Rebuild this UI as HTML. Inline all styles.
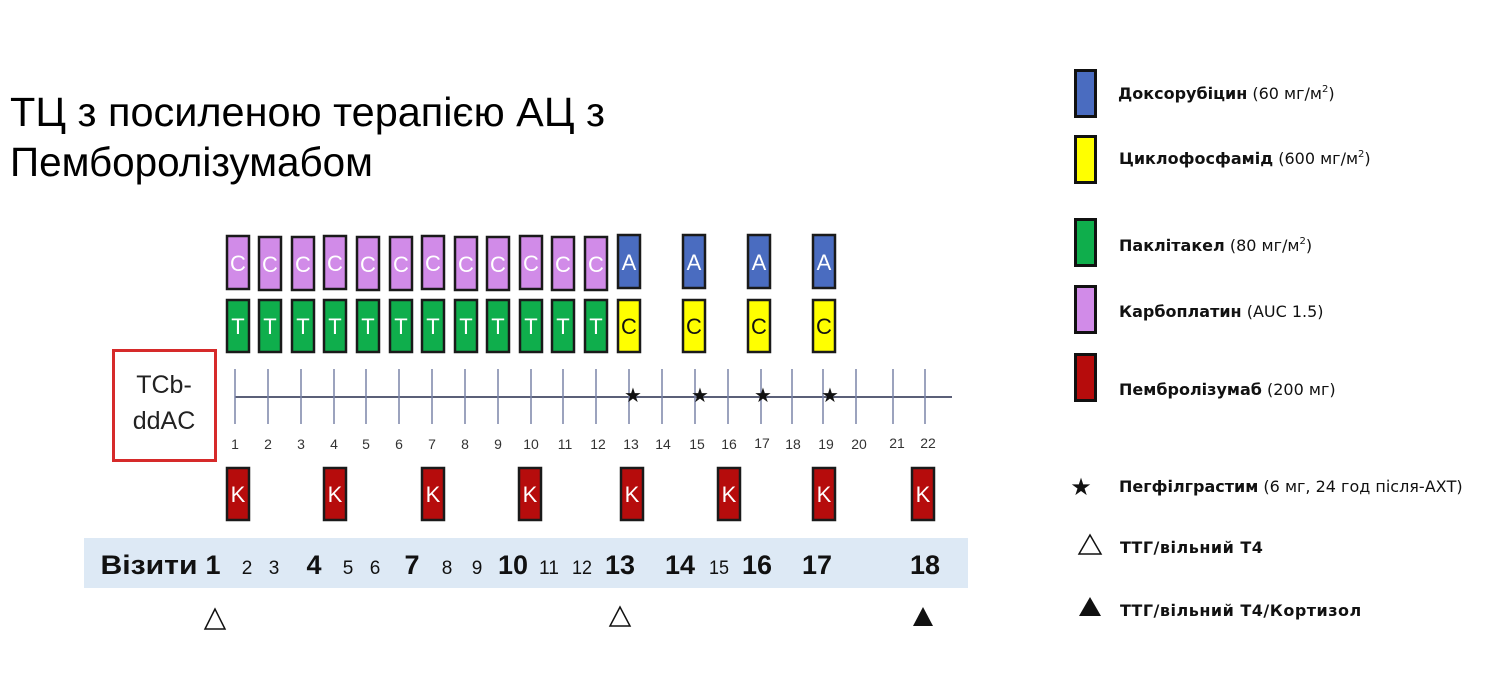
<!DOCTYPE html>
<html><head><meta charset="utf-8"><style>html,body{margin:0;padding:0;background:#fff}svg{display:block}</style></head>
<body>
<svg width="1507" height="677" viewBox="0 0 1507 677" xmlns="http://www.w3.org/2000/svg" font-family="'Liberation Sans','DejaVu Sans',sans-serif">
<text x="10" y="126" font-size="41" textLength="595" lengthAdjust="spacingAndGlyphs">ТЦ з посиленою терапією АЦ з</text>
<text x="10" y="176" font-size="41" textLength="363" lengthAdjust="spacingAndGlyphs">Пемборолізумабом</text>

<!-- red box -->
<rect x="113.5" y="350.5" width="102" height="110" fill="#fff" stroke="#d62a2a" stroke-width="3"/>
<text x="164" y="393" font-size="25" text-anchor="middle" fill="#222">TCb-</text>
<text x="164" y="429" font-size="25" text-anchor="middle" fill="#222">ddAC</text>

<g stroke="#1a1a1a" stroke-width="2.5">
<g fill="#d18be8">
<rect x="227" y="236" width="22" height="53"/><rect x="259" y="237" width="22" height="53"/><rect x="292" y="237" width="22" height="53"/><rect x="324" y="236" width="22" height="53"/><rect x="357" y="237" width="22" height="53"/><rect x="390" y="237" width="22" height="53"/><rect x="422" y="236" width="22" height="53"/><rect x="455" y="237" width="22" height="53"/><rect x="487" y="237" width="22" height="53"/><rect x="520" y="236" width="22" height="53"/><rect x="552" y="237" width="22" height="53"/><rect x="585" y="237" width="22" height="53"/>
</g>
<g fill="#0fae4c">
<rect x="227" y="300" width="22" height="52"/><rect x="259" y="300" width="22" height="52"/><rect x="292" y="300" width="22" height="52"/><rect x="324" y="300" width="22" height="52"/><rect x="357" y="300" width="22" height="52"/><rect x="390" y="300" width="22" height="52"/><rect x="422" y="300" width="22" height="52"/><rect x="455" y="300" width="22" height="52"/><rect x="487" y="300" width="22" height="52"/><rect x="520" y="300" width="22" height="52"/><rect x="552" y="300" width="22" height="52"/><rect x="585" y="300" width="22" height="52"/>
</g>
<g fill="#4a6cc0">
<rect x="618" y="235" width="22" height="53"/><rect x="683" y="235" width="22" height="53"/><rect x="748" y="235" width="22" height="53"/><rect x="813" y="235" width="22" height="53"/>
</g>
<g fill="#ffff00">
<rect x="618" y="300" width="22" height="52"/><rect x="683" y="300" width="22" height="52"/><rect x="748" y="300" width="22" height="52"/><rect x="813" y="300" width="22" height="52"/>
</g>
<g fill="#b60c0c">
<rect x="227" y="468" width="22" height="52"/><rect x="324" y="468" width="22" height="52"/><rect x="422" y="468" width="22" height="52"/><rect x="519" y="468" width="22" height="52"/><rect x="621" y="468" width="22" height="52"/><rect x="718" y="468" width="22" height="52"/><rect x="813" y="468" width="22" height="52"/><rect x="912" y="468" width="22" height="52"/>
</g>
</g>
<g font-size="22" fill="#fff" text-anchor="middle">
<text x="238" y="271">C</text><text x="270" y="272">C</text><text x="303" y="272">C</text><text x="335" y="271">C</text><text x="368" y="272">C</text><text x="401" y="272">C</text><text x="433" y="271">C</text><text x="466" y="272">C</text><text x="498" y="272">C</text><text x="531" y="271">C</text><text x="563" y="272">C</text><text x="596" y="272">C</text>
<text x="238" y="334">T</text><text x="270" y="334">T</text><text x="303" y="334">T</text><text x="335" y="334">T</text><text x="368" y="334">T</text><text x="401" y="334">T</text><text x="433" y="334">T</text><text x="466" y="334">T</text><text x="498" y="334">T</text><text x="531" y="334">T</text><text x="563" y="334">T</text><text x="596" y="334">T</text>
<text x="629" y="270">A</text><text x="694" y="270">A</text><text x="759" y="270">A</text><text x="824" y="270">A</text>
<text x="238" y="502">K</text><text x="335" y="502">K</text><text x="433" y="502">K</text><text x="530" y="502">K</text><text x="632" y="502">K</text><text x="729" y="502">K</text><text x="824" y="502">K</text><text x="923" y="502">K</text>
</g>
<g font-size="22" fill="#111" text-anchor="middle">
<text x="629" y="334">C</text><text x="694" y="334">C</text><text x="759" y="334">C</text><text x="824" y="334">C</text>
</g>

<g stroke="#7a84a8" stroke-width="1.5">
<line x1="235" y1="397" x2="952" y2="397" stroke="#5b6078" stroke-width="2"/>
<line x1="235" y1="369" x2="235" y2="424"/><line x1="268" y1="369" x2="268" y2="424"/><line x1="301" y1="369" x2="301" y2="424"/><line x1="334" y1="369" x2="334" y2="424"/><line x1="366" y1="369" x2="366" y2="424"/><line x1="399" y1="369" x2="399" y2="424"/><line x1="432" y1="369" x2="432" y2="424"/><line x1="465" y1="369" x2="465" y2="424"/><line x1="498" y1="369" x2="498" y2="424"/><line x1="531" y1="369" x2="531" y2="424"/><line x1="563" y1="369" x2="563" y2="424"/><line x1="596" y1="369" x2="596" y2="424"/>
<line x1="629" y1="369" x2="629" y2="424"/><line x1="662" y1="369" x2="662" y2="424"/><line x1="695" y1="369" x2="695" y2="424"/><line x1="728" y1="369" x2="728" y2="424"/><line x1="761" y1="369" x2="761" y2="424"/><line x1="792" y1="369" x2="792" y2="424"/><line x1="823" y1="369" x2="823" y2="424"/><line x1="856" y1="369" x2="856" y2="424"/><line x1="893" y1="369" x2="893" y2="424"/><line x1="925" y1="369" x2="925" y2="424"/>
</g>
<g font-size="20" fill="#111" text-anchor="middle" font-family="'DejaVu Sans',sans-serif">
<text x="633" y="402">★</text><text x="700" y="402">★</text><text x="763" y="402">★</text><text x="830" y="402">★</text>
</g>
<g font-size="14" fill="#333" text-anchor="middle">
<text x="235" y="449">1</text><text x="268" y="449">2</text><text x="301" y="449">3</text><text x="334" y="449">4</text><text x="366" y="449">5</text><text x="399" y="449">6</text><text x="432" y="449">7</text><text x="465" y="449">8</text><text x="498" y="449">9</text><text x="531" y="449">10</text><text x="565" y="449">11</text><text x="598" y="449">12</text>
<text x="631" y="449">13</text><text x="663" y="449">14</text><text x="697" y="449">15</text><text x="729" y="449">16</text><text x="762" y="448">17</text><text x="793" y="449">18</text><text x="826" y="449">19</text><text x="859" y="449">20</text><text x="897" y="448">21</text><text x="928" y="448">22</text>
</g>

<rect x="84" y="538" width="884" height="50" fill="#dde9f5"/>
<g font-weight="bold" font-size="27" fill="#111" text-anchor="middle">
<text x="149" y="574" textLength="97" lengthAdjust="spacingAndGlyphs">Візити</text>
<text x="213" y="574">1</text><text x="314" y="574">4</text><text x="412" y="574">7</text><text x="513" y="574" textLength="30" lengthAdjust="spacingAndGlyphs">10</text><text x="620" y="574" textLength="30" lengthAdjust="spacingAndGlyphs">13</text><text x="680" y="574" textLength="30" lengthAdjust="spacingAndGlyphs">14</text><text x="757" y="574" textLength="30" lengthAdjust="spacingAndGlyphs">16</text><text x="817" y="574" textLength="30" lengthAdjust="spacingAndGlyphs">17</text><text x="925" y="574" textLength="30" lengthAdjust="spacingAndGlyphs">18</text>
</g>
<g font-size="19" fill="#111" text-anchor="middle">
<text x="247" y="574">2</text><text x="274" y="574">3</text><text x="348" y="574">5</text><text x="375" y="574">6</text><text x="447" y="574">8</text><text x="477" y="574">9</text><text x="549" y="574" textLength="20" lengthAdjust="spacingAndGlyphs">11</text><text x="582" y="574" textLength="20" lengthAdjust="spacingAndGlyphs">12</text><text x="719" y="574" textLength="20" lengthAdjust="spacingAndGlyphs">15</text>
</g>
<polygon points="215,609 205,629 225,629" fill="none" stroke="#111" stroke-width="1.5"/>
<polygon points="620,607 610,626 630,626" fill="none" stroke="#111" stroke-width="1.5"/>
<polygon points="923,607 913,626 933,626" fill="#111"/>

<g stroke="#111" stroke-width="3">
<rect x="1075.5" y="70.5" width="20" height="46" fill="#4a6cc0"/>
<rect x="1075.5" y="136.5" width="20" height="46" fill="#ffff00"/>
<rect x="1075.5" y="219.5" width="20" height="46" fill="#0fae4c"/>
<rect x="1075.5" y="286.5" width="20" height="46" fill="#d18be8"/>
<rect x="1075.5" y="354.5" width="20" height="46" fill="#b60c0c"/>
</g>
<g font-family="'DejaVu Sans',sans-serif" font-size="16" fill="#111">
<text x="1118" y="99"><tspan font-weight="bold">Доксорубіцин</tspan> (60 мг/м<tspan font-size="10" dy="-7">2</tspan><tspan dy="7">)</tspan></text>
<text x="1119" y="164"><tspan font-weight="bold">Циклофосфамід</tspan> (600 мг/м<tspan font-size="10" dy="-7">2</tspan><tspan dy="7">)</tspan></text>
<text x="1119" y="251"><tspan font-weight="bold">Паклітакел</tspan> (80 мг/м<tspan font-size="10" dy="-7">2</tspan><tspan dy="7">)</tspan></text>
<text x="1119" y="317"><tspan font-weight="bold">Карбоплатин</tspan> (AUC 1.5)</text>
<text x="1119" y="395"><tspan font-weight="bold">Пембролізумаб</tspan> (200 мг)</text>
<text x="1119" y="492"><tspan font-weight="bold">Пегфілграстим</tspan> (6 мг, 24 год після-АХТ)</text>
<text x="1120" y="553" font-weight="bold" letter-spacing="0.5">ТТГ/вільний Т4</text>
<text x="1120" y="616" font-weight="bold" letter-spacing="0.5">ТТГ/вільний Т4/Кортизол</text>
</g>
<text x="1081" y="495" font-size="24" text-anchor="middle" fill="#111" font-family="'DejaVu Sans',sans-serif">★</text>
<polygon points="1090,535 1079,554 1101,554" fill="none" stroke="#111" stroke-width="1.5"/>
<polygon points="1090,597 1079,616 1101,616" fill="#111"/>
</svg>
</body></html>
